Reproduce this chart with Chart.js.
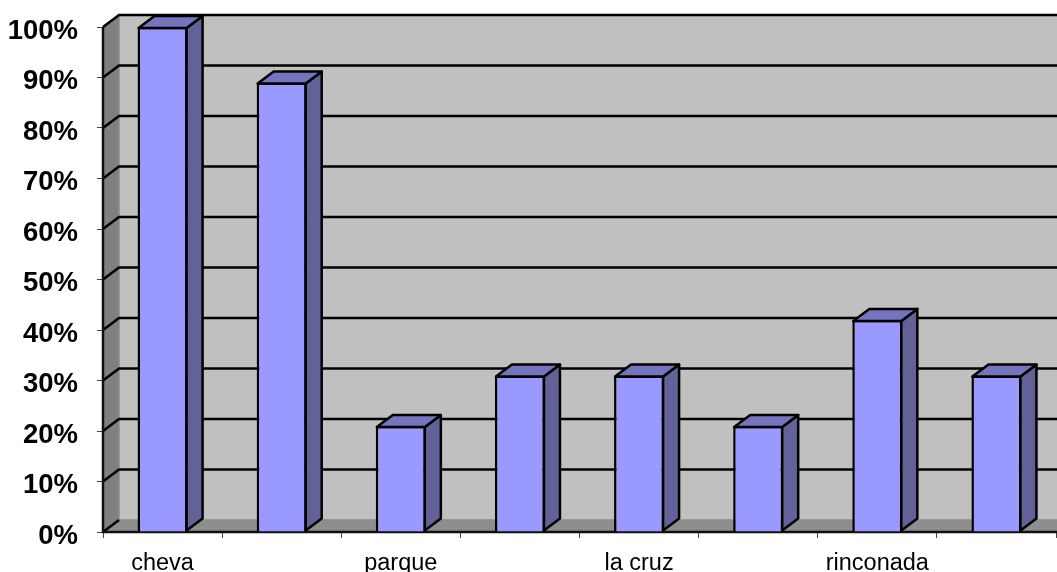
<!DOCTYPE html>
<html>
<head>
<meta charset="utf-8">
<style>html,body{margin:0;padding:0;background:#fff;overflow:hidden}canvas{display:block}</style>
<script src="https://cdn.jsdelivr.net/npm/chart.js@4"></script>
</head>
<body>
<canvas id="c" width="1057" height="572"></canvas>
<script>
const categories = ["cheva", "", "parque", "", "la cruz", "", "rinconada", ""];
const values = [100, 89, 21, 31, 31, 21, 42, 31];
const yTickStep = 10;

const DX = 16, DY = -12;
const FONT = '"Liberation Sans", Arial, sans-serif';

const poly = (ctx, pts, fill, stroke, lw) => {
  ctx.beginPath();
  pts.forEach((p, i) => i ? ctx.lineTo(p[0], p[1]) : ctx.moveTo(p[0], p[1]));
  ctx.closePath();
  if (fill) { ctx.fillStyle = fill; ctx.fill(); }
  if (stroke) { ctx.strokeStyle = stroke; ctx.lineWidth = lw; ctx.lineJoin = 'round'; ctx.stroke(); }
};

const box3d = {
  id: 'box3d',
  beforeDatasetsDraw(chart) {
    const { ctx, chartArea: a, scales: { y } } = chart;
    const L = a.left, R = a.right, T = a.top, B = a.bottom;
    ctx.save();
    poly(ctx, [[L+DX,T+DY],[R+DX,T+DY],[R+DX,B+DY],[L+DX,B+DY]], '#c0c0c0');
    poly(ctx, [[L,T],[L+DX,T+DY],[L+DX,B+DY],[L,B]], '#808080');
    poly(ctx, [[L,B],[L+DX,B+DY],[R+DX,B+DY],[R,B]], '#8e8e8e');
    ctx.strokeStyle = '#8a8a8a';
    ctx.lineWidth = 1.5;
    ctx.beginPath();
    ctx.moveTo(L+DX, T+DY); ctx.lineTo(L+DX, B+DY); ctx.lineTo(R+DX, B+DY);
    ctx.stroke();
    ctx.strokeStyle = '#000';
    ctx.lineWidth = 2.5;
    y.ticks.forEach(t => {
      const p = y.getPixelForValue(t.value);
      ctx.beginPath();
      ctx.moveTo(L, p);
      ctx.lineTo(L+DX, p+DY);
      if (t.value > 0) ctx.lineTo(R+DX, p+DY);
      ctx.stroke();
    });
    ctx.strokeStyle = '#111';
    ctx.beginPath();
    ctx.moveTo(L, T); ctx.lineTo(L, B); ctx.lineTo(R+DX, B);
    ctx.stroke();
    ctx.restore();
  },
  afterDatasetsDraw(chart) {
    const { ctx } = chart;
    ctx.save();
    chart.getDatasetMeta(0).data.forEach(bar => {
      const l = bar.x - bar.width / 2 + 1, r = bar.x + bar.width / 2 - 1;
      const t = bar.y + 1, b = bar.base - 1;
      poly(ctx, [[r,t],[r+DX,t+DY],[r+DX,b+DY],[r,b]], '#626299', '#000', 2.5);
      poly(ctx, [[l,t],[l+DX,t+DY],[r+DX,t+DY],[r,t]], '#7575bf', '#000', 2.5);
    });
    ctx.restore();
  }
};

new Chart(document.getElementById('c'), {
  type: 'bar',
  data: {
    labels: categories,
    datasets: [{
      data: values,
      backgroundColor: '#9999ff',
      borderColor: '#000',
      borderWidth: 2.5,
      barPercentage: 0.42,
      categoryPercentage: 1
    }]
  },
  plugins: [box3d],
  options: {
    responsive: false,
    animation: false,
    layout: { padding: { top: 27, right: 1, left: 0, bottom: 0 } },
    plugins: { legend: { display: false }, tooltip: { enabled: false }, title: { display: false } },
    scales: {
      x: {
        afterFit(s) { s.height = 40; s.paddingLeft = 0; s.paddingRight = 0; },
        grid: { offset: true, drawOnChartArea: false, drawTicks: true, tickLength: 6, color: '#444', lineWidth: 1 },
        border: { display: false },
        ticks: { autoSkip: false, maxRotation: 0, minRotation: 0, color: '#000', padding: 11, font: { family: FONT, size: 23.5 } }
      },
      y: {
        min: 0,
        max: 100,
        afterFit(s) { s.width = 103; s.paddingTop = 0; s.paddingBottom = 0; },
        afterUpdate(s) {
          const orig = s._computeLabelItems;
          s._computeLabelItems = function (c) {
            const items = orig.call(this, c);
            items.forEach(i => { i.options.translation[1] += 2; });
            return items;
          };
        },
        grid: { drawOnChartArea: false, drawTicks: true, tickLength: 6, color: '#444', lineWidth: 1 },
        border: { display: false },
        ticks: {
          stepSize: yTickStep,
          color: '#000',
          padding: 19,
          font: { family: FONT, size: 27.5, weight: 'bold' },
          callback: v => v + '%'
        }
      }
    }
  }
});
</script>
</body>
</html>
